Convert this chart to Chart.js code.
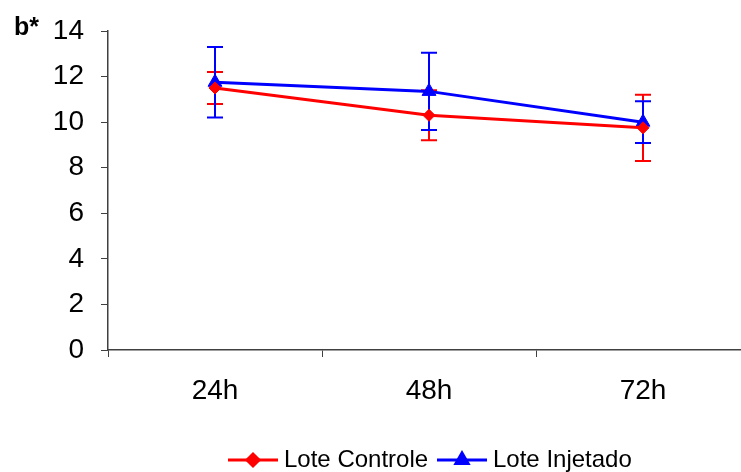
<!DOCTYPE html>
<html>
<head>
<meta charset="utf-8">
<script src="https://cdn.jsdelivr.net/npm/chart.js@4/dist/chart.umd.min.js"></script>
<style>
html, body { margin: 0; padding: 0; background: #fff; overflow: hidden; }
#wrap { width: 759px; height: 472px; }
</style>
</head>
<body>
<div id="wrap"><canvas id="chart" width="759" height="472"></canvas></div>
<script>
// dados
const categories = ['24h', '48h', '72h'];
const controleValues = [11.5, 10.3, 9.75];
const controleErrors = [0.7, 1.1, 1.45];
const injetadoValues = [11.75, 11.35, 10.0];
const injetadoErrors = [1.55, 1.7, 0.92];
const yTicks = [0, 2, 4, 6, 8, 10, 12, 14];

const FONT = '"Liberation Sans", Arial, sans-serif';
const RED = '#ff0000';
const BLUE = '#0000ff';
const AXIS = '#404040';

// barras de erro desenhadas pelas escalas do Chart.js
const errorBars = {
    id: 'errorBars',
    beforeDatasetsDraw(chart) {
        const ctx = chart.ctx;
        const y = chart.scales.y;
        const errs = [controleErrors, injetadoErrors];
        chart.data.datasets.forEach((ds, i) => {
            const meta = chart.getDatasetMeta(i);
            ctx.save();
            ctx.strokeStyle = ds.borderColor;
            ctx.lineWidth = 2;
            meta.data.forEach((pt, j) => {
                const v = ds.data[j];
                const top = y.getPixelForValue(v + errs[i][j]);
                const bot = y.getPixelForValue(v - errs[i][j]);
                ctx.beginPath();
                ctx.moveTo(pt.x, top);
                ctx.lineTo(pt.x, bot);
                ctx.moveTo(pt.x - 8, top);
                ctx.lineTo(pt.x + 8, top);
                ctx.moveTo(pt.x - 8, bot);
                ctx.lineTo(pt.x + 8, bot);
                ctx.stroke();
            });
            ctx.restore();
        });
    }
};

// rótulo b* e legenda
const extras = {
    id: 'extras',
    afterDraw(chart) {
        const ctx = chart.ctx;
        ctx.save();
        ctx.fillStyle = '#000';
        ctx.font = 'bold 25px ' + FONT;
        ctx.textBaseline = 'alphabetic';
        ctx.fillText('b*', 14, 35);

        const items = [
            { label: 'Lote Controle', color: RED, style: 'rectRot', x: 228, r: 6 },
            { label: 'Lote Injetado', color: BLUE, style: 'triangle', x: 437, r: 7 }
        ];
        const ly = 460;
        ctx.font = '24px ' + FONT;
        ctx.textBaseline = 'middle';
        items.forEach(it => {
            ctx.strokeStyle = it.color;
            ctx.lineWidth = 3;
            ctx.beginPath();
            ctx.moveTo(it.x, ly);
            ctx.lineTo(it.x + 50, ly);
            ctx.stroke();
            ctx.fillStyle = it.color;
            Chart.helpers.drawPoint(ctx, { pointStyle: it.style, radius: it.r, borderWidth: 1 }, it.x + 25, ly);
            ctx.fill();
            ctx.fillStyle = '#000';
            ctx.fillText(it.label, it.x + 56, ly);
        });
        ctx.restore();
    }
};

new Chart(document.getElementById('chart'), {
    type: 'line',
    data: {
        labels: categories,
        datasets: [
            {
                label: 'Lote Controle',
                data: controleValues,
                borderColor: RED,
                backgroundColor: RED,
                borderWidth: 3,
                pointStyle: 'rectRot',
                pointRadius: 6,
                pointBorderWidth: 1,
                tension: 0
            },
            {
                label: 'Lote Injetado',
                data: injetadoValues,
                borderColor: BLUE,
                backgroundColor: BLUE,
                borderWidth: 3,
                pointStyle: 'triangle',
                pointRadius: 8,
                pointBorderWidth: 1,
                tension: 0
            }
        ]
    },
    options: {
        responsive: false,
        animation: false,
        layout: { padding: { top: 31, left: 0, right: 0, bottom: 0 } },
        plugins: {
            legend: { display: false },
            tooltip: { enabled: false }
        },
        scales: {
            x: {
                offset: true,
                grid: { offset: true, drawOnChartArea: false, color: AXIS, tickLength: 7 },
                border: { color: AXIS, width: 1.5 },
                ticks: { color: '#000', font: { family: FONT, size: 28 }, padding: 17 },
                afterFit(scale) { scale.height = 122; }
            },
            y: {
                min: 0,
                max: 14,
                afterBuildTicks(scale) { scale.ticks = yTicks.map(v => ({ value: v })); },
                grid: { drawOnChartArea: false, color: AXIS, tickLength: 7 },
                border: { color: AXIS, width: 1.5 },
                ticks: { color: '#000', font: { family: FONT, size: 28 }, padding: 17 },
                afterFit(scale) {
                    scale.width = 108;
                    scale.paddingTop = 0;
                    scale.paddingBottom = 0;
                }
            }
        }
    },
    plugins: [errorBars, extras]
});
</script>
</body>
</html>
